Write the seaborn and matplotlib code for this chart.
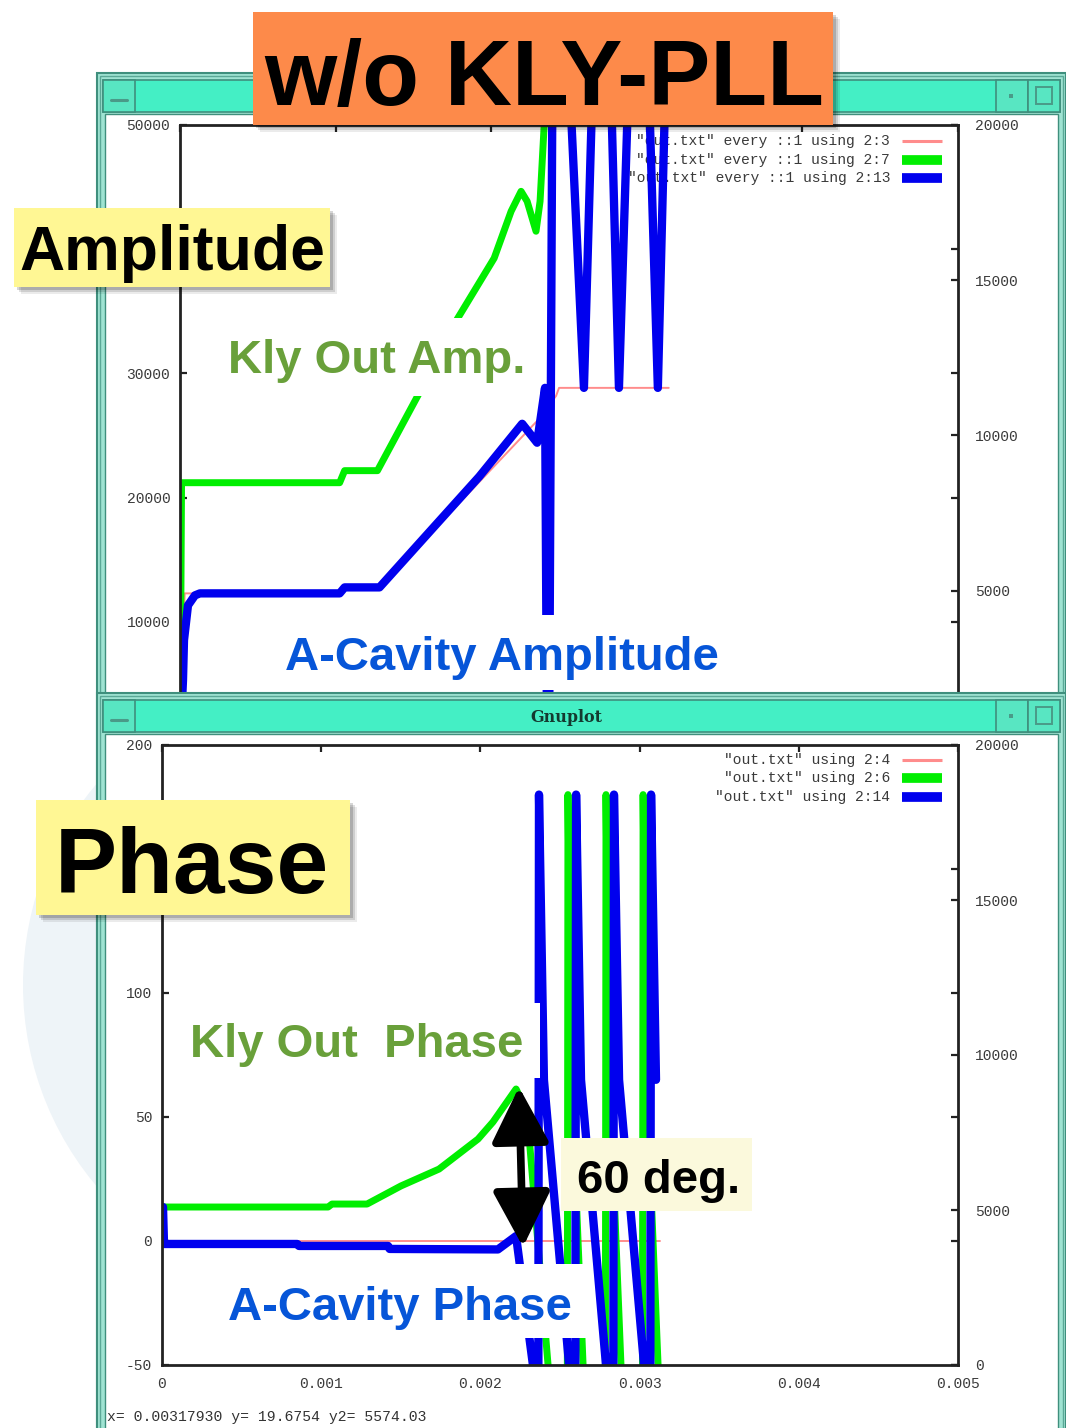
import numpy as np
import pandas as pd
import matplotlib
matplotlib.use("Agg")
import matplotlib.pyplot as plt
import seaborn as sns
from matplotlib.patches import Rectangle, Circle
from matplotlib.lines import Line2D

W, H = 1066, 1428

# ---------------- data ----------------
# Amplitude window: time [s] and amplitude [a.u.]
amp_t_ref = [0.0, 0.00003, 0.001026, 0.001058, 0.001282, 0.002308, 0.002417, 0.002436, 0.003141]
amp_ref = [0, 12289, 12289, 12771, 12771, 26345, 28193, 28835, 28835]

amp_t_kly = [0.0, 0.00001, 0.001026, 0.001058, 0.001269, 0.001538, 0.001782, 0.002019,
             0.002128, 0.002192, 0.002231, 0.002288, 0.002314, 0.00234, 0.00238, 0.003141]
amp_kly = [0, 21200, 21200, 22170, 22170, 28430, 34380, 39277,
           43052, 44659, 43855, 41446, 43855, 49880, 65000, 65000]

amp_t_cav = [0.0, 0.0000192, 0.0000256, 0.0000513, 0.0000962, 0.000128, 0.001026, 0.001058,
             0.001282, 0.001923, 0.002199, 0.002295, 0.002346, 0.002359, 0.002372, 0.002404,
             0.002596, 0.002712, 0.002821, 0.002949, 0.003071, 0.003173]
amp_cav = [0, 5301, 8514, 11325, 12129, 12289, 12289, 12771,
           12771, 21687, 25944, 24418, 28835, 0, 0, 80000,
           28835, 80000, 28835, 80000, 28835, 80000]

# Phase window: time [s] and phase [deg] (wrapping at +/-180)
ph_t_ref = [0.0, 0.00313]
ph_ref = [0, 0]

ph_t_kly = [0.0000063, 0.001043, 0.001068, 0.001288, 0.001501, 0.00174, 0.001985, 0.002079,
            0.002224, 0.002293, 0.002425, 0.002544, 0.00255, 0.002569, 0.002645, 0.002783,
            0.002789, 0.002808, 0.002883, 0.003016, 0.003022, 0.00304, 0.003116, 0.003141]
ph_kly = [13.7, 13.7, 14.9, 14.9, 22.2, 29.0, 41.1, 48.0,
          61.3, 52.0, -50, -180, 180, 70, -50, -180,
          180, 70, -50, -180, 180, 70, -50, -100]

ph_t_cav = [0.0000063, 0.0000126, 0.00085, 0.00086, 0.00142, 0.00143, 0.00211, 0.002224,
            0.00233, 0.002362, 0.002368, 0.002399, 0.002557, 0.002594, 0.002601, 0.002632,
            0.002789, 0.002833, 0.002839, 0.002871, 0.003028, 0.003065, 0.003072, 0.003103]
ph_cav = [13.7, -1.2, -1.2, -2.0, -2.0, -3.2, -3.4, 2.0,
          -50, -180, 180, 65, -50, -180, 180, 65,
          -50, -180, 180, 65, -50, -180, 180, 65]

amp_keys = ['"out.txt" every ::1 using 2:3', '"out.txt" every ::1 using 2:7',
            '"out.txt" every ::1 using 2:13']
ph_keys = ['"out.txt" using 2:4', '"out.txt" using 2:6', '"out.txt" using 2:14']

x_ticks = [0, 0.001, 0.002, 0.003, 0.004, 0.005]
x_ticklabels = ["0", "0.001", "0.002", "0.003", "0.004", "0.005"]
amp_yticks = [0, 10000, 20000, 30000, 40000, 50000]
amp_yticklabels = ["", "10000", "20000", "30000", "", "50000"]
amp_y2ticks = [0, 5000, 10000, 15000, 20000]
amp_y2ticklabels = ["", "5000", "10000", "15000", "20000"]
ph_yticks = [-50, 0, 50, 100, 150, 200]
ph_yticklabels = ["-50", "0", "50", "100", "", "200"]
ph_y2ticks = [0, 5000, 10000, 15000, 20000]
ph_y2ticklabels = ["0", "5000", "10000", "15000", "20000"]
status_text = "x= 0.00317930 y= 19.6754 y2= 5574.03"

# ---------------- style ----------------
sns.set_theme(style="white")
plt.rcParams["font.family"] = ["Liberation Sans", "DejaVu Sans"]

RED = "#FF8C8C"
GREEN = "#00EE00"
BLUE = "#0000EE"
TICKC = "#3a3a3a"
MONO = "Liberation Mono"

fig = plt.figure(figsize=(W / 100, H / 100), dpi=100)
fig.patch.set_facecolor("white")


def frac(x0, y0, x1, y1):
    return [x0 / W, 1 - y1 / H, (x1 - x0) / W, (y1 - y0) / H]


def pix_axes(z):
    a = fig.add_axes([0, 0, 1, 1], zorder=z)
    a.set_xlim(0, W)
    a.set_ylim(H, 0)
    a.axis("off")
    a.patch.set_visible(False)
    return a


def window(a, x0, y0, x1, y1, title=None):
    dark = "#3f8f7d"
    a.add_patch(Rectangle((x0, y0), x1 - x0, y1 - y0, fc="#9fe3d2", ec=dark, lw=1.5))
    a.add_patch(Rectangle((x0 + 3, y0 + 3), x1 - x0 - 6, y1 - y0 - 6, fc="none", ec="#5aa896", lw=1.0))
    a.add_patch(Rectangle((x0 + 6, y0 + 7), x1 - x0 - 12, 32, fc="#44efc5", ec=dark, lw=1.2))
    a.add_patch(Rectangle((x0 + 6, y0 + 7), 32, 32, fc="#58e6c2", ec=dark, lw=1.2))
    a.plot([x0 + 14, x0 + 30], [y0 + 27, y0 + 27], color="#4a9a88", lw=2.2)
    a.add_patch(Rectangle((x1 - 70, y0 + 7), 32, 32, fc="#58e6c2", ec=dark, lw=1.2))
    a.add_patch(Rectangle((x1 - 38, y0 + 7), 32, 32, fc="#58e6c2", ec=dark, lw=1.2))
    a.add_patch(Rectangle((x1 - 57, y0 + 21), 4, 4, fc="#4a9a88", ec="none"))
    a.add_patch(Rectangle((x1 - 30, y0 + 14), 16, 17, fc="none", ec="#4a9a88", lw=1.4))
    a.add_patch(Rectangle((x0 + 8, y0 + 41), x1 - x0 - 16, y1 - y0 - 41, fc="white", ec=dark, lw=1.0))
    if title:
        a.text(566, y0 + 24, title, ha="center", va="center",
               fontsize=11.5, fontweight="bold", family=["DejaVu Serif"], color="#143a30")


def style_plot(ax, axr, ylim, yticks, yticklabels, y2lim, y2ticks, y2ticklabels):
    ax.set_xlim(0, 0.005)
    ax.set_ylim(*ylim)
    ax.set_xticks(x_ticks)
    ax.set_xticklabels(x_ticklabels, family=MONO)
    ax.set_yticks(yticks)
    ax.set_yticklabels(yticklabels, family=MONO)
    ax.tick_params(axis="both", direction="in", length=5, width=1.6, color="#222",
                   top=True, right=True, labelsize=10.5, labelcolor=TICKC)
    ax.tick_params(axis="y", pad=7)
    ax.tick_params(axis="x", pad=9)
    for s in ax.spines.values():
        s.set_color("#222")
        s.set_linewidth(2.0)
        s.set_visible(True)
    ax.set_xlabel("")
    ax.set_ylabel("")
    ax.grid(False)
    axr.set_ylim(*y2lim)
    axr.set_yticks(y2ticks)
    axr.set_yticklabels(y2ticklabels, family=MONO)
    axr.tick_params(axis="y", direction="in", length=5, width=1.6, color="#222",
                    labelsize=10.5, labelcolor=TICKC, pad=12)
    for s in axr.spines.values():
        s.set_visible(False)
    axr.grid(False)
    axr.set_ylabel("")


def key(ax, labels, ys):
    cols = [RED, GREEN, BLUE]
    lws = [2.2, 7, 7]
    for lab, y, c, lw in zip(labels, ys, cols, lws):
        ax.text(890 / W, 1 - y / H, lab, transform=fig.transFigure, ha="right", va="center",
                family=MONO, fontsize=10.5, color=TICKC, zorder=1)
        ax.add_line(Line2D([902 / W, 942 / W], [1 - y / H, 1 - y / H], transform=fig.transFigure,
                           color=c, lw=lw, solid_capstyle="butt", clip_on=False, zorder=3))


# ---------------- background + top window ----------------
bg1 = pix_axes(0)
bg1.add_patch(Circle((335, 985), 312, fc="#eef4f8", ec="none"))
window(bg1, 97, 73, 1066, 1440)

# ---------------- amplitude plot ----------------
ax1 = fig.add_axes(frac(180, 125, 958, 746), zorder=1)
ax1.patch.set_facecolor("white")
sns.lineplot(x=amp_t_ref, y=amp_ref, ax=ax1, color=RED, lw=1.4, sort=False, estimator=None, zorder=2)
sns.lineplot(x=amp_t_kly, y=amp_kly, ax=ax1, color=GREEN, lw=5.0, sort=False, estimator=None, zorder=2)
sns.lineplot(x=amp_t_cav, y=amp_cav, ax=ax1, color=BLUE, lw=6.0, sort=False, estimator=None, zorder=2)
ax1r = ax1.twinx()
ax1r.set_zorder(1.5)
style_plot(ax1, ax1r, (0, 50000), amp_yticks, amp_yticklabels, (0, 20000), amp_y2ticks, amp_y2ticklabels)
ax1.tick_params(axis="x", labelbottom=False)
key(ax1, amp_keys, [141, 160, 178])

# ---------------- bottom window ----------------
bg2 = pix_axes(2)
window(bg2, 97, 693, 1066, 1440, title="Gnuplot")
bg2.text(107, 1417, status_text, ha="left", va="center", family=MONO, fontsize=10.6, color="#333")

# ---------------- phase plot ----------------
ax2 = fig.add_axes(frac(162, 745, 958, 1365), zorder=3)
ax2.patch.set_facecolor("white")
sns.lineplot(x=ph_t_ref, y=ph_ref, ax=ax2, color=RED, lw=1.4, sort=False, estimator=None, zorder=2)
sns.lineplot(x=ph_t_kly, y=ph_kly, ax=ax2, color=GREEN, lw=5.0, sort=False, estimator=None, zorder=2)
sns.lineplot(x=ph_t_cav, y=ph_cav, ax=ax2, color=BLUE, lw=6.0, sort=False, estimator=None, zorder=2)
ax2r = ax2.twinx()
ax2r.set_zorder(3.5)
style_plot(ax2, ax2r, (-50, 200), ph_yticks, ph_yticklabels, (0, 20000), ph_y2ticks, ph_y2ticklabels)
key(ax2, ph_keys, [760, 778, 797])

# ---------------- annotations ----------------
ov = pix_axes(10)


def shadow(x0, y0, x1, y1):
    for d, a in [(7, 0.08), (5, 0.12), (3, 0.16)]:
        ov.add_patch(Rectangle((x0 + d, y0 + d), x1 - x0, y1 - y0, fc="black", alpha=a, ec="none"))


def label_box(x0, y0, x1, y1, fc, shade=True):
    if shade:
        shadow(x0, y0, x1, y1)
    ov.add_patch(Rectangle((x0, y0), x1 - x0, y1 - y0, fc=fc, ec="none"))


label_box(253, 12, 833, 125, "#fd8a4a")
ov.text(544, 105, "w/o KLY-PLL", ha="center", va="baseline", fontsize=67, fontweight="bold", color="black")

label_box(14, 208, 330, 287, "#fff794")
ov.text(19, 270, "Amplitude", ha="left", va="baseline", fontsize=45, fontweight="bold", color="black")

label_box(36, 800, 350, 915, "#fff794")
ov.text(55, 893, "Phase", ha="left", va="baseline", fontsize=67, fontweight="bold", color="black")

GTXT = "#69a03a"
BTXT = "#0655d8"
label_box(222, 318, 535, 396, "white", shade=False)
ov.text(228, 373, "Kly Out Amp.", ha="left", va="baseline", fontsize=34, fontweight="bold", color=GTXT)

label_box(275, 615, 730, 690, "white", shade=False)
ov.text(285, 670, "A-Cavity Amplitude", ha="left", va="baseline", fontsize=34, fontweight="bold", color=BTXT)

label_box(180, 1003, 540, 1078, "white", shade=False)
ov.text(190, 1057, "Kly Out  Phase", ha="left", va="baseline", fontsize=34, fontweight="bold", color=GTXT)

label_box(215, 1264, 587, 1338, "white", shade=False)
ov.text(228, 1320, "A-Cavity Phase", ha="left", va="baseline", fontsize=34, fontweight="bold", color=BTXT)

label_box(561, 1138, 752, 1211, "#fbf9dc", shade=False)
ov.text(577, 1193, "60 deg.", ha="left", va="baseline", fontsize=34, fontweight="bold", color="black")

ov.annotate("", xy=(519, 1087), xytext=(523, 1247),
            arrowprops=dict(arrowstyle="<|-|>,head_length=1.55,head_width=0.8", mutation_scale=22,
                            lw=5.5, color="black", shrinkA=0, shrinkB=0))

fig.savefig("out.png", dpi=100)
